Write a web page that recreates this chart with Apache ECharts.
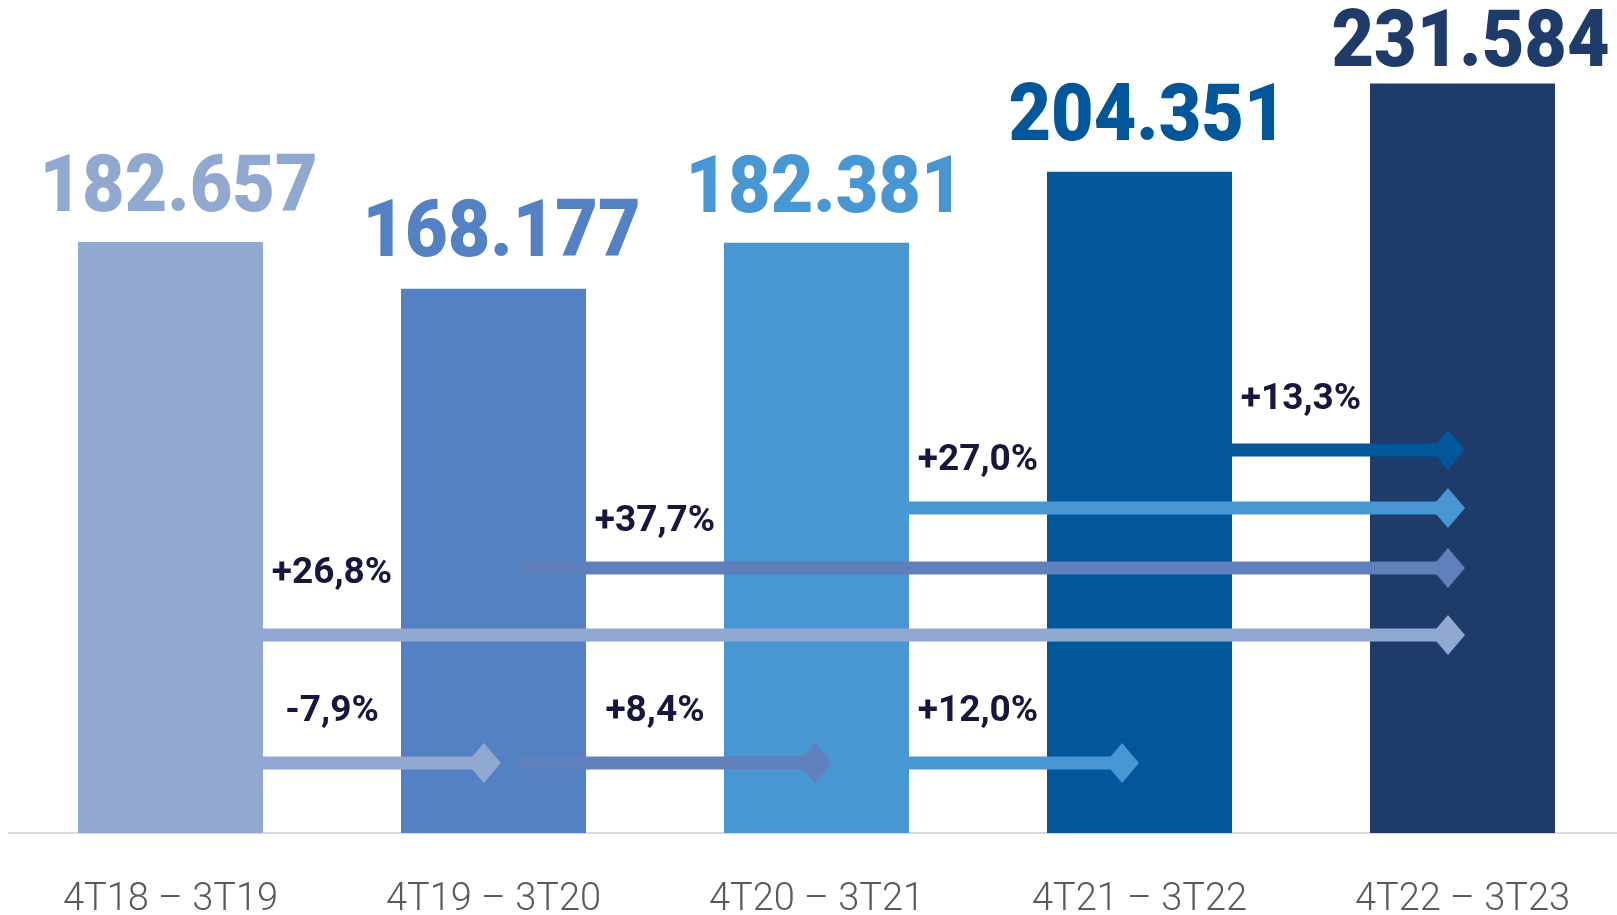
<!DOCTYPE html>
<html>
<head>
<meta charset="utf-8">
<script src="https://cdn.jsdelivr.net/npm/echarts@6/dist/echarts.min.js"></script>
<style>
html,body{margin:0;padding:0;background:#fff;}
#chart{width:1617px;height:915px;}
</style>
</head>
<body>
<div id="chart"></div>
<script>
// ---- data ----
const categories = ['4T18 – 3T19', '4T19 – 3T20', '4T20 – 3T21', '4T21 – 3T22', '4T22 – 3T23'];
const values = [182657, 168177, 182381, 204351, 231584];
// growth arrows: from category -> to category
const growthFrom = [0, 1, 2, 0, 1, 2, 3];
const growthTo = [1, 2, 3, 4, 4, 4, 4];
const growthLabels = ['-7,9%', '+8,4%', '+12,0%', '+26,8%', '+37,7%', '+27,0%', '+13,3%'];

// ---- layout / style ----
const barColors = ['#91A9D1', '#5381C3', '#4896D2', '#02569A', '#1E3B6A'];
const valueLabelRaise = [51, 53, 51, 52, 38];
const arrowColors = ['#91A9D1', '#6080BC', '#4896D2', '#91A9D1', '#6080BC', '#4896D2', '#02569A'];
const arrowLevel = [21630, 21630, 21630, 61200, 81900, 100400, 118350]; // vertical level in value units
const arrowEndShift = [-0.03, -0.005, -0.054, -0.045, -0.045, -0.045, -0.045]; // diamond centre shift (band fraction)
const labelRaise = [51, 51, 51, 61, 46, 47, 50];

function fmt(v) {
  return String(v).replace(/\B(?=(\d{3})+(?!\d))/g, '.');
}

const chart = echarts.init(document.getElementById('chart'), null, {renderer: 'canvas'});

const barData = values.map((v, i) => ({
  value: v,
  itemStyle: {color: barColors[i]}
}));

const arrowData = growthFrom.map((f, i) => [f, arrowLevel[i], growthTo[i]]);
const valueLabelData = values.map((v, i) => [i, v]);

const option = {
  animation: false,
  grid: {left: 9, top: 24, width: 1615, height: 809, containLabel: false, outerBoundsMode: 'none'},
  xAxis: {
    type: 'category',
    data: categories,
    axisLine: {show: true, lineStyle: {color: '#D9D9D9', width: 2}},
    axisTick: {show: false},
    axisLabel: {
      margin: 48,
      color: '#595959',
      fontFamily: 'Roboto',
      fontSize: 38,
      fontWeight: 300
    },
    splitLine: {show: false}
  },
  yAxis: {
    type: 'value',
    min: 0,
    max: 250000,
    show: false,
    splitLine: {show: false}
  },
  series: [
    {
      type: 'bar',
      data: barData,
      barWidth: 185,
      z: 2
    },
    {
      type: 'custom',
      z: 4,
      data: valueLabelData,
      encode: {x: 0, y: 1},
      renderItem: function (params, api) {
        const i = params.dataIndex;
        const p = api.coord([api.value(0), api.value(1)]);
        return {
          type: 'text',
          x: p[0] + 8,
          y: p[1] - valueLabelRaise[i],
          scaleX: 0.92,
          style: {
            text: fmt(api.value(1)),
            fill: barColors[i],
            font: '900 80px Roboto',
            align: 'center',
            verticalAlign: 'middle'
          }
        };
      }
    },
    {
      type: 'custom',
      z: 5,
      data: arrowData,
      encode: {x: 0, y: 1},
      renderItem: function (params, api) {
        const i = params.dataIndex;
        const from = api.value(0);
        const level = api.value(1);
        const to = api.value(2);
        const band = api.size([1, 0])[0];
        const p0 = api.coord([from, level]);
        const pe = api.coord([to, level]);
        const x0 = p0[0] + 0.08 * band;
        const x1 = pe[0] + arrowEndShift[i] * band;
        const y = p0[1];
        const col = arrowColors[i];
        const lw = 13, dw = 17, dh = 20;
        return {
          type: 'group',
          children: [
            {
              type: 'rect',
              shape: {x: x0, y: y - lw / 2, width: x1 - x0, height: lw},
              style: {fill: col}
            },
            {
              type: 'polygon',
              shape: {points: [[x1 - dw, y], [x1, y - dh], [x1 + dw, y], [x1, y + dh]]},
              style: {fill: col}
            },
            {
              type: 'text',
              x: p0[0] + 0.5 * band,
              y: y - labelRaise[i],
              style: {
                text: growthLabels[i],
                fill: '#16163E',
                font: '700 37px Roboto',
                align: 'center',
                verticalAlign: 'middle'
              }
            }
          ]
        };
      }
    }
  ]
};

chart.setOption(option);
</script>
</body>
</html>
